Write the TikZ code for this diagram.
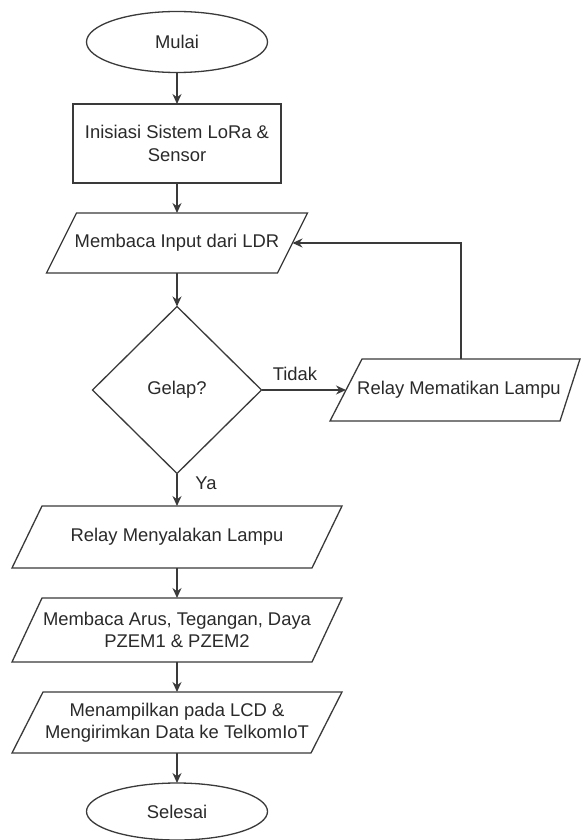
\documentclass[tikz,border=0pt]{standalone}
\usepackage{fontspec}
\setmainfont{Liberation Sans}
\usetikzlibrary{shapes.geometric,arrows.meta}
\definecolor{ln}{HTML}{3A3A3A}
\definecolor{tx}{HTML}{2A2A2A}
\newcommand\drawpara[3]{%
  \draw[shapeline] ([xshift=#2]#1.north west) -- (#1.north east) -- ([xshift=-#3]#1.south east) -- (#1.south west) -- cycle;}
\begin{document}
\begin{tikzpicture}[x=1pt,y=-1pt,
  every node/.style={font=\fontsize{18.4}{22.5}\selectfont, text=tx, align=center, inner sep=0pt, outer sep=0pt},
  shapeline/.style={draw=ln, line width=1.3pt, fill=white},
  term/.style={ellipse, shapeline, minimum width=181pt, minimum height=61pt},
  procbox/.style={rectangle, shapeline, minimum width=208pt, minimum height=79pt},
  decbox/.style={diamond, shapeline, minimum width=169pt, minimum height=167pt},
  parabox/.style={rectangle, draw=none, minimum height=#1},
  parabox/.default=62pt,
  conn/.style={draw=ln, line width=1.3pt, -{Stealth[length=10pt,width=9pt]}},
  lbl/.style={font=\fontsize{18.4}{22.5}\selectfont}]
\useasboundingbox[fill=white] (0,0) rectangle (581,840);

\node[term] (mulai) at (177,42) {Mulai};
\node[procbox] (init) at (177,143.5) {Inisiasi Sistem LoRa \&\\Sensor};

\node[parabox=60pt, minimum width=261pt] (ldr) at (177,243) {};
\drawpara{ldr}{30pt}{30pt}
\node at (ldr.center) {Membaca Input dari LDR};

\node[decbox] (gelap) at (177,390) {Gelap?};

\node[parabox=62pt, minimum width=250pt] (off) at (455,390) {};
\drawpara{off}{32pt}{20pt}
\node at ([xshift=4pt]off.center) {Relay Mematikan Lampu};

\node[parabox=62pt, minimum width=330pt] (on) at (177,537) {};
\drawpara{on}{30pt}{30pt}
\node at (on.center) {Relay Menyalakan Lampu};

\node[parabox=64pt, minimum width=330pt] (pzem) at (177,630) {};
\drawpara{pzem}{30pt}{30pt}
\node at (pzem.center) {Membaca Arus, Tegangan, Daya\\PZEM1 \& PZEM2};

\node[parabox=61pt, minimum width=330pt] (lcd) at (177,722.5) {};
\drawpara{lcd}{31pt}{31pt}
\node at (lcd.center) {Menampilkan pada LCD \&\\Mengirimkan Data ke TelkomIoT};

\node[term, minimum height=57pt] (selesai) at (177,811.5) {Selesai};

\coordinate (offL) at ([xshift=16pt]off.west);
\coordinate (offT) at ([xshift=6pt]off.north);
\coordinate (ldrR) at ([xshift=-15pt]ldr.east);

\draw[conn] (mulai.south) -- (init.north);
\draw[conn] (init.south) -- (ldr.north);
\draw[conn] (ldr.south) -- (gelap.north);
\draw[conn] (gelap.east) -- (offL);
\draw[conn] (offT) |- (ldrR);
\draw[conn] (gelap.south) -- (on.north);
\draw[conn] (on.south) -- (pzem.north);
\draw[conn] (pzem.south) -- (lcd.north);
\draw[conn] (lcd.south) -- (selesai.north);

\node[lbl] (tidak) at (295,374) {Tidak};
\node[lbl] (ya) at (206,483) {Ya};
\end{tikzpicture}
\end{document}
